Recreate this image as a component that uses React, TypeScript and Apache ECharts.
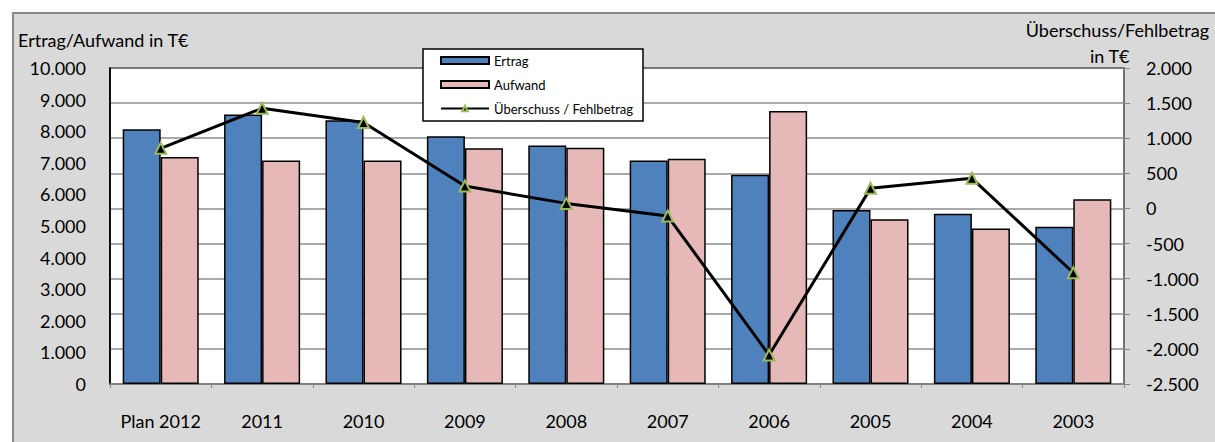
import React, { useEffect, useRef } from "react";
import * as echarts from "echarts";

const categories = ["Plan 2012", "2011", "2010", "2009", "2008", "2007", "2006", "2005", "2004", "2003"];
const ertrag = [8060, 8530, 8350, 7840, 7550, 7070, 6620, 5510, 5390, 4980];
const aufwand = [7180, 7070, 7070, 7460, 7480, 7130, 8640, 5210, 4920, 5850];
const saldo = [856, 1426, 1223, 319, 72, -108, -2088, 286, 429, -916];

const FONT = "Lato";

const fmt = (v: number) => {
  const neg = v < 0;
  const s = Math.abs(Math.round(v)).toString().replace(/\B(?=(\d{3})+(?!\d))/g, ".");
  return (neg ? "-" : "") + s;
};

export default function App() {
  const ref = useRef<HTMLDivElement>(null);
  useEffect(() => {
    document.body.style.margin = "0";
    const chart = echarts.init(ref.current!, null, { renderer: "svg" });
    chart.setOption({
      animation: false,
      backgroundColor: "#ffffff",
      textStyle: { fontFamily: FONT },
      grid: {
        left: 110,
        right: 91,
        top: 68,
        bottom: 58,
        show: true,
        backgroundColor: "#ffffff",
        borderColor: "#000000",
        borderWidth: 1.5,
      },
      graphic: [
        {
          type: "rect",
          z: -10,
          shape: { x: 13, y: 13, width: 1215, height: 440 },
          style: { fill: "#d9d9d9", stroke: "#898989", lineWidth: 2 },
        },
        {
          type: "text",
          z: 5,
          left: 18,
          top: 31,
          style: { text: "Ertrag/Aufwand in T€", font: `18px ${FONT}`, fill: "#000" },
        },
        {
          type: "text",
          z: 5,
          right: 6,
          top: 21,
          style: { text: "Überschuss/Fehlbetrag", font: `18px ${FONT}`, fill: "#000" },
        },
        {
          type: "text",
          z: 5,
          right: 85,
          top: 47,
          style: { text: "in T€", font: `18px ${FONT}`, fill: "#000" },
        },
        {
          type: "rect",
          z: 20,
          shape: { x: 423, y: 49, width: 220, height: 72 },
          style: { fill: "#ffffff", stroke: "#000000", lineWidth: 1.5 },
        },
      ],
      legend: {
        z: 30,
        orient: "vertical",
        left: 440,
        top: 53,
        padding: 0,
        itemWidth: 48,
        itemHeight: 7,
        itemGap: 9,
        textStyle: { fontFamily: FONT, fontSize: 13, color: "#000", lineHeight: 15 },
        data: [
          { name: "Ertrag", icon: "rect" },
          { name: "Aufwand", icon: "rect" },
          { name: "Überschuss / Fehlbetrag" },
        ],
      },
      xAxis: {
        type: "category",
        data: categories,
        axisLine: { lineStyle: { color: "#868686", width: 1.5 } },
        axisTick: { show: true, length: 4, lineStyle: { color: "#868686" } },
        axisLabel: { color: "#000", fontSize: 18, fontFamily: FONT, margin: 28, interval: 0 },
      },
      yAxis: [
        {
          type: "value",
          min: 0,
          max: 10000,
          interval: 1000,
          position: "left",
          axisLine: { show: true, lineStyle: { color: "#000", width: 1.5 } },
          axisTick: { show: false },
          splitLine: { show: false },
          axisLabel: {
            color: "#000",
            fontSize: 18,
            fontFamily: FONT,
            margin: 24,
            formatter: (v: number) => fmt(v),
          },
        },
        {
          type: "value",
          min: -2500,
          max: 2000,
          interval: 500,
          position: "right",
          axisLine: { show: true, lineStyle: { color: "#868686", width: 1.5 } },
          axisTick: { show: true, length: 6, lineStyle: { color: "#868686" } },
          splitLine: { show: true, lineStyle: { color: "#8c8c8c", width: 1.5 } },
          axisLabel: {
            color: "#000",
            fontSize: 18,
            fontFamily: FONT,
            margin: 22,
            formatter: (v: number) => fmt(v),
          },
        },
      ],
      series: [
        {
          name: "Ertrag",
          type: "bar",
          yAxisIndex: 0,
          data: ertrag,
          barGap: "0%",
          barCategoryGap: "25%",
          itemStyle: { color: "#4f81bd", borderColor: "#000", borderWidth: 1.5 },
        },
        {
          name: "Aufwand",
          type: "bar",
          yAxisIndex: 0,
          data: aufwand,
          barGap: "0%",
          barCategoryGap: "25%",
          itemStyle: { color: "#e6b9b8", borderColor: "#000", borderWidth: 1.5 },
        },
        {
          name: "Überschuss / Fehlbetrag",
          type: "line",
          yAxisIndex: 1,
          data: saldo,
          z: 10,
          symbol: "triangle",
          symbolSize: 11,
          lineStyle: { color: "#000", width: 3 },
          itemStyle: { color: "#000", borderColor: "#9bbb59", borderWidth: 2 },
        },
      ],
    });
    return () => chart.dispose();
  }, []);
  return (
    <div
      ref={ref}
      style={{ position: "absolute", left: 0, top: 0, width: 1215, height: 442 }}
    />
  );
}
